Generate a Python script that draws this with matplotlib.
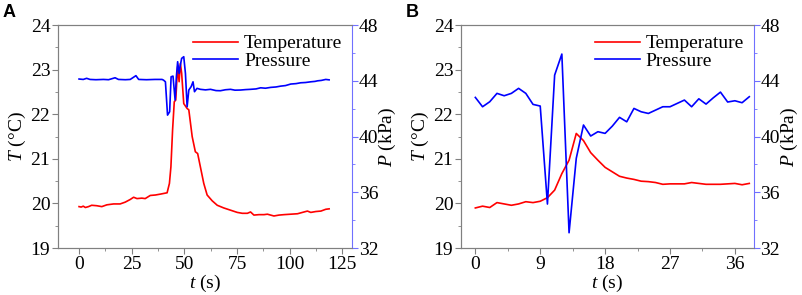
import matplotlib
matplotlib.use("Agg")
import matplotlib.pyplot as plt
from matplotlib.ticker import MultipleLocator
import numpy as np

plt.rcParams['font.family'] = ['Liberation Serif', 'DejaVu Serif']
plt.rcParams['mathtext.fontset'] = 'custom'
plt.rcParams['mathtext.rm'] = 'Liberation Serif'
plt.rcParams['mathtext.it'] = 'Liberation Serif:italic'

# ---- panel A data ----
tA_temp = [0, 1, 2, 3, 4.5, 6, 8.4, 10.8, 13.2, 16.4, 19.5, 21.9, 24.3, 25.9,
           27.5, 29.8, 31.4, 33.8, 36.2, 38.6, 41.8, 42.9, 43.6, 44.4, 45.2,
           45.9, 46.8, 47.5, 48.1, 48.7, 49.7, 51.3, 52.1, 53.7, 55.2, 56.3,
           57.6, 59.2, 60.8, 63.2, 65.6, 68.7, 71.9, 75.1, 77.5, 79.9, 81.4,
           83.0, 85.4, 87.8, 89.4, 92.5, 94.9, 97.3, 100.5, 103.7, 106.8,
           108.4, 110, 112.4, 114.8, 117.1, 118.7]
TA = [19.93, 19.92, 19.94, 19.91, 19.93, 19.96, 19.95, 19.93, 19.97, 19.99,
      19.99, 20.03, 20.09, 20.14, 20.11, 20.12, 20.11, 20.18, 20.19, 20.21,
      20.24, 20.45, 20.82, 21.65, 22.28, 22.32, 23.07, 22.73, 23.14, 22.92,
      22.24, 22.13, 22.10, 21.50, 21.16, 21.12, 20.82, 20.45, 20.19, 20.06,
      19.96, 19.90, 19.85, 19.80, 19.78, 19.78, 19.81, 19.74, 19.75, 19.75,
      19.76, 19.72, 19.74, 19.75, 19.76, 19.77, 19.81, 19.83, 19.80, 19.82,
      19.83, 19.87, 19.88]

tA_pres = [0, 2, 3.6, 5.2, 8, 11.6, 14, 17.1, 18.7, 22, 24.3, 27.0, 28.3, 32,
           36, 39.4, 40.1, 41.0, 41.4, 42.0, 43.0, 43.7, 44.6, 45.6, 46.2,
           46.8, 47.5, 48.1, 48.7, 49.7, 50.5, 51.3, 52.1, 53.2, 54.1, 54.8,
           56.0, 57.6, 60, 62.4, 65, 67.1, 69.5, 71.9, 74, 76.7, 79, 81.4, 84,
           86.2, 88.5, 91.0, 93.5, 95.7, 98, 100.5, 103, 105.2, 107.5, 110,
           112, 113.2, 115, 117.1, 118.7]
PA = [44.13, 44.10, 44.18, 44.10, 44.08, 44.10, 44.08, 44.22, 44.10, 44.08,
      44.10, 44.37, 44.10, 44.08, 44.10, 44.10, 44.05, 43.93, 42.98, 41.54,
      41.78, 44.29, 44.34, 42.62, 44.29, 45.37, 44.53, 45.13, 45.61, 45.73,
      44.53, 42.14, 43.34, 43.58, 43.93, 43.22, 43.46, 43.39, 43.35, 43.39,
      43.30, 43.29, 43.36, 43.39, 43.33, 43.34, 43.37, 43.39, 43.42, 43.50,
      43.47, 43.53, 43.56, 43.62, 43.66, 43.77, 43.80, 43.86, 43.88, 43.93,
      43.96, 44.00, 44.03, 44.10, 44.07]

# ---- panel B data (1 s sampling) ----
tB = list(range(39))
TB = [19.90, 19.94, 19.91, 20.02, 19.99, 19.96, 19.99, 20.04, 20.02, 20.05,
      20.13, 20.30, 20.67, 20.97, 21.57, 21.41, 21.14, 20.97, 20.81, 20.71,
      20.61, 20.57, 20.54, 20.50, 20.49, 20.47, 20.43, 20.44, 20.44, 20.44,
      20.47, 20.45, 20.43, 20.43, 20.43, 20.44, 20.45, 20.42, 20.45]
PB = [42.81, 42.14, 42.50, 43.10, 42.93, 43.10, 43.46, 43.10, 42.31, 42.19,
      35.16, 44.41, 45.92, 33.10, 38.44, 40.83, 40.04, 40.35, 40.23, 40.75,
      41.38, 41.06, 42.02, 41.78, 41.66, 41.90, 42.14, 42.14, 42.38, 42.62,
      42.14, 42.71, 42.33, 42.78, 43.19, 42.48, 42.57, 42.43, 42.86]

FS = 14
GRAY = '#808080'
RSPINE = '#7070ff'

fig = plt.figure(figsize=(8.03, 2.95), dpi=100)


def panel(rect, tT, T, tP, P, xlim, xmajor, label):
    ax = fig.add_axes(rect)
    ax2 = ax.twinx()
    lt, = ax.plot(tT, T, color='#ff0000', lw=1.2, label='Temperature')
    lp, = ax2.plot(tP, P, color='#0000ff', lw=1.2, label='Pressure')
    ax.set_xlim(*xlim)
    ax.set_ylim(19, 24)
    ax2.set_ylim(32, 48)
    ax.xaxis.set_major_locator(MultipleLocator(xmajor))
    ax.xaxis.set_minor_locator(MultipleLocator(xmajor / 2))
    ax.yaxis.set_major_locator(MultipleLocator(1))
    ax.yaxis.set_minor_locator(MultipleLocator(0.5))
    ax2.yaxis.set_major_locator(MultipleLocator(4))
    ax2.yaxis.set_minor_locator(MultipleLocator(2))
    for s in ['left', 'top', 'bottom']:
        ax.spines[s].set_color(GRAY)
        ax2.spines[s].set_color(GRAY)
    ax2.spines['right'].set_color(RSPINE)
    ax.spines['right'].set_visible(False)
    ax.tick_params(which='both', direction='out', color=GRAY, labelsize=FS,
                   top=False, right=False)
    ax.tick_params(which='major', length=4, pad=1.5)
    ax.tick_params(which='minor', length=2.5)
    ax2.tick_params(which='both', direction='out', color=RSPINE, labelsize=FS)
    ax2.tick_params(which='major', length=4, pad=1)
    ax2.tick_params(which='minor', length=2.5)
    ax.set_xlabel(r'$t$ (s)', fontsize=FS, labelpad=0)
    ax.set_ylabel(r'$T$ (°C)', fontsize=FS, labelpad=2)
    ax2.set_ylabel(r'$P$ (kPa)', fontsize=FS, labelpad=-1)
    ax2.legend([lt, lp], ['Temperature', 'Pressure'], loc='upper right',
               frameon=False, fontsize=FS, handlelength=2.3, handletextpad=0.3,
               labelspacing=0.0, borderaxespad=0.1)
    fig.text(rect[0] - 0.069, 0.985, label, fontsize=13, fontweight='bold',
             family='Liberation Sans', va='top', ha='left')
    return ax, ax2


panel([0.0722, 0.159, 0.366, 0.756], tA_temp, TA, tA_pres, PA,
      (-10, 129.5), 25, 'A')
panel([0.574, 0.159, 0.3645, 0.756], tB, TB, tB, PB,
      (-2, 38.6), 9, 'B')

fig.savefig('out.png', dpi=100)
